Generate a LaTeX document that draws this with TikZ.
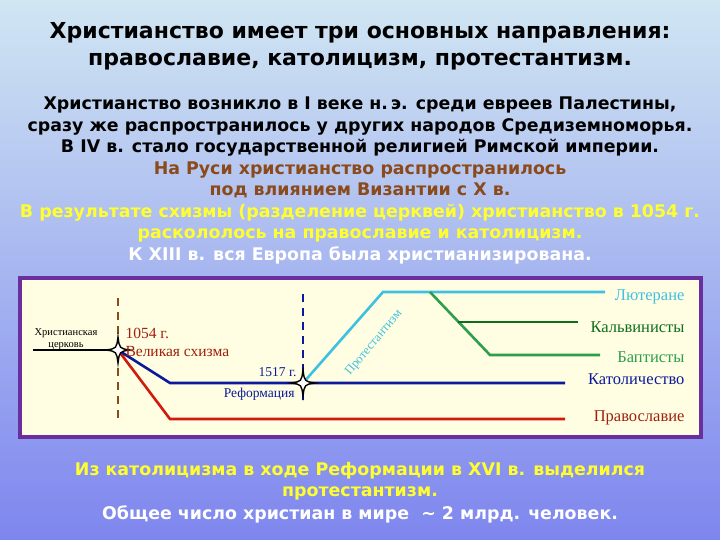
\documentclass[tikz,border=0pt]{standalone}
\usepackage{fontspec}
\setmainfont{DejaVu Sans}
\newfontfamily\dser{Liberation Serif}
\definecolor{bgtop}{HTML}{D0E6F2}
\definecolor{bgbot}{HTML}{7E86EE}
\definecolor{boxfill}{HTML}{FFFDE2}
\definecolor{boxline}{HTML}{6A2E9E}
\definecolor{brownt}{HTML}{8B4A1C}
\definecolor{yellt}{HTML}{FFFF30}
\definecolor{cyanl}{HTML}{3EC0E0}
\definecolor{greenl}{HTML}{2E9E4E}
\definecolor{dgreen}{HTML}{0E6E1E}
\definecolor{navyl}{HTML}{0A1A9A}
\definecolor{redl}{HTML}{D01A10}
\definecolor{redt}{HTML}{A0200E}
\begin{document}
\begin{tikzpicture}[x=1pt,y=-1pt,
  title/.style={font=\bfseries\fontsize{22}{27}\selectfont, align=center},
  body/.style={font=\bfseries\fontsize{17.4}{21.5}\selectfont, align=center},
  lbl/.style={font=\dser\fontsize{16.5}{18}\selectfont, anchor=east},
  ln/.style={line width=2.6pt},
  sparkle/.style={fill=white, draw=black, line width=1.4pt}]
\useasboundingbox (0,0) rectangle (720,540);
\shade[top color=bgtop, bottom color=bgbot] (0,0) rectangle (720,540);
\node[title] (t) at (360,46) {Христианство имеет три основных направления:\\православие, католицизм, протестантизм.};
\node[body] (b1) at (360,127) {Христианство возникло в I веке н.\,э. среди евреев Палестины,\\сразу же распространилось у других народов Средиземноморья.\\В IV в. стало государственной религией Римской империи.};
\node[body, text=brownt] (b2) at (360,180) {На Руси христианство распространилось\\под влиянием Византии с X в.};
\node[body, text=yellt] (b3) at (360,223) {В результате схизмы (разделение церквей) христианство в 1054 г.\\раскололось на православие и католицизм.};
\node[body, text=white] (b4) at (360,255) {К XIII в. вся Европа была христианизирована.};
\node[body, text=yellt] (b5) at (360,481) {Из католицизма в ходе Реформации в XVI в. выделился\\протестантизм.};
\node[body, text=white] (b6) at (360,514) {Общее число христиан в мире \ \char"007E\ 2 млрд. человек.};
% diagram box
\draw[boxline, line width=4pt, fill=boxfill] (20,278) rectangle (701,437);
\coordinate (s1) at (118,350);
\coordinate (s2) at (303,383);
\draw[brownt, line width=2pt, dash pattern=on 8pt off 6pt] (118,298) -- (118,422);
\draw[navyl, line width=2pt, dash pattern=on 8pt off 6pt] (303,294) -- (303,405);
\draw[ln, black] (33,350) -- (s1);
\coordinate (b0) at (170,383); \coordinate (b1e) at (565,383);
\coordinate (r0) at (170,419); \coordinate (r1e) at (565,419);
\draw[ln, redl] (s1) -- (r0) -- (r1e);
\draw[ln, navyl] (s1) -- (b0) -- (b1e);
\coordinate (c0) at (383,292); \coordinate (c1) at (605,292);
\coordinate (g0) at (430,292); \coordinate (g1) at (490,355); \coordinate (g2) at (600,355);
\coordinate (d0) at (458,322); \coordinate (d1) at (578,322);
\draw[ln, cyanl] (s2) -- (c0) -- (c1);
\draw[ln, greenl] (g0) -- (g1) -- (g2);
\draw[ln, dgreen] (d0) -- (d1);
\foreach \c in {s1,s2}{
  \begin{scope}[shift={(\c)}]
  \draw[sparkle] (0,-13) .. controls (1.5,-1.5) .. (12,0) .. controls (1.5,1.5) .. (0,13) .. controls (-1.5,1.5) .. (-12,0) .. controls (-1.5,-1.5) .. (0,-13) -- cycle;
  \end{scope}}
\node[lbl, text=cyanl] (l1) at (688,297) {Лютеране};
\node[lbl, text=dgreen] (l2) at (688,327) {Кальвинисты};
\node[lbl, text=greenl] (l3) at (688,357) {Баптисты};
\node[lbl, text=navyl] (l4) at (688,379) {Католичество};
\node[lbl, text=redt] (l5) at (688,418) {Православие};
\node[font=\dser\fontsize{10.5}{11.5}\selectfont, align=center] (ch) at (66,339) {Христианская\\церковь};
\node[font=\dser\fontsize{15.5}{17}\selectfont, text=redt, anchor=west] (y1) at (122,333) {1054 г.};
\node[font=\dser\fontsize{15.5}{17}\selectfont, text=redt, anchor=west] (y2) at (122,351) {Великая схизма};
\node[font=\dser\fontsize{13.5}{15}\selectfont, text=navyl, anchor=east] (y3) at (300,372) {1517 г.};
\node[font=\dser\fontsize{13.5}{15}\selectfont, text=navyl, anchor=east] (y4) at (298,394) {Реформация};
\node[font=\dser\fontsize{12.5}{14}\selectfont, text=cyanl, rotate=50] (pr) at (374,343) {Протестантизм};
\end{tikzpicture}
\end{document}
